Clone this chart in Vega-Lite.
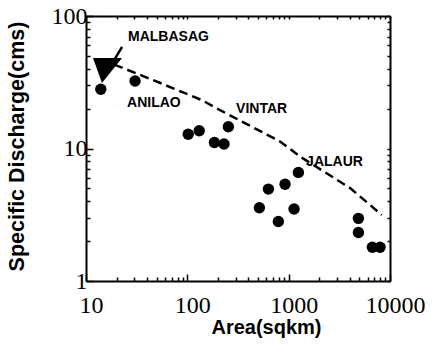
{
  "$schema": "https://vega.github.io/schema/vega-lite/v6.json",
  "width": 304,
  "height": 265,
  "autosize": {"type": "none"},
  "padding": {"left": 86, "top": 16, "right": 42, "bottom": 63},
  "background": "white",
  "config": {
    "view": {"stroke": null},
    "axis": {
      "domainColor": "black",
      "domainWidth": 2,
      "tickColor": "black",
      "tickWidth": 1.5,
      "grid": false,
      "labelFont": "Liberation Serif",
      "labelFontSize": 24,
      "labelColor": "black",
      "labelOverlap": false,
      "labelFlush": false,
      "titleFont": "Liberation Sans",
      "titleFontSize": 20,
      "titleFontWeight": "bold",
      "titleColor": "black"
    }
  },
  "datasets": {
    "points": [
      {"area": 14.0, "q": 28.0},
      {"area": 30.5, "q": 32.3},
      {"area": 102, "q": 12.8},
      {"area": 131, "q": 13.6},
      {"area": 185, "q": 11.1},
      {"area": 230, "q": 10.8},
      {"area": 254, "q": 14.6},
      {"area": 1247, "q": 6.6},
      {"area": 921, "q": 5.37},
      {"area": 631, "q": 4.94},
      {"area": 514, "q": 3.57},
      {"area": 1130, "q": 3.49},
      {"area": 791, "q": 2.81},
      {"area": 4880, "q": 2.97},
      {"area": 4880, "q": 2.32},
      {"area": 6700, "q": 1.8},
      {"area": 7980, "q": 1.8}
    ],
    "curve": [
      {"area": 19, "q": 43},
      {"area": 23.2, "q": 40.5},
      {"area": 54, "q": 31.2},
      {"area": 139, "q": 23.2},
      {"area": 192, "q": 20.2},
      {"area": 822, "q": 11.3},
      {"area": 1325, "q": 8.6},
      {"area": 4040, "q": 5.03},
      {"area": 8300, "q": 3.15}
    ],
    "arrow": [
      {"area": 18.5, "q": 45},
      {"area": 22.7, "q": 58.4}
    ],
    "marker": [
      {"area": 16.3, "q": 38.8}
    ],
    "labels": [
      {"area": 26, "q": 69.5, "name": "MALBASAG"},
      {"area": 25.4, "q": 22.0, "name": "ANILAO"},
      {"area": 303, "q": 19.7, "name": "VINTAR"},
      {"area": 1486, "q": 7.9, "name": "JALAUR"}
    ]
  },
  "resolve": {"axis": {"x": "independent", "y": "independent"}},
  "layer": [
    {
      "data": {"name": "points"},
      "mark": {"type": "circle", "color": "black", "opacity": 1, "size": 130},
      "encoding": {
        "x": {
          "field": "area", "type": "quantitative",
          "scale": {"type": "log", "domain": [10, 10000], "nice": false},
          "axis": {
            "orient": "bottom",
            "title": "Area(sqkm)",
            "titleX": 180, "titleY": 46, "titleBaseline": "middle", "titleAlign": "center",
            "values": [10,20,30,40,50,60,70,80,90,100,200,300,400,500,600,700,800,900,1000,2000,3000,4000,5000,6000,7000,8000,9000,10000],
            "format": "d",
            "labelExpr": "indexof([10,100,1000,10000], datum.value) >= 0 ? datum.label : ''",
            "tickSize": {"condition": {"test": "indexof([10,100,1000,10000], datum.value) >= 0", "value": -7}, "value": -4},
            "labelPadding": 19,
            "labelOffset": 5
          }
        },
        "y": {
          "field": "q", "type": "quantitative",
          "scale": {"type": "log", "domain": [1, 100], "nice": false},
          "axis": {
            "orient": "left",
            "title": "Specific Discharge(cms)",
            "titleFontSize": 21.5,
            "titleX": -69, "titleY": 130, "titleBaseline": "middle", "titleAlign": "center",
            "values": [1,2,3,4,5,6,7,8,9,10,20,30,40,50,60,70,80,90,100],
            "format": "d",
            "labelExpr": "indexof([1,10,100], datum.value) >= 0 ? datum.label : ''",
            "tickSize": {"condition": {"test": "indexof([1,10,100], datum.value) >= 0", "value": -7}, "value": -4},
            "labelPadding": 6
          }
        }
      }
    },
    {
      "data": {"name": "curve"},
      "mark": {"type": "line", "color": "black", "strokeWidth": 2.5, "strokeDash": [9, 5]},
      "encoding": {
        "x": {
          "field": "area", "type": "quantitative",
          "axis": {
            "orient": "top", "title": null, "labels": false,
            "values": [10,20,30,40,50,60,70,80,90,100,200,300,400,500,600,700,800,900,1000,2000,3000,4000,5000,6000,7000,8000,9000,10000],
            "tickSize": -3
          }
        },
        "y": {
          "field": "q", "type": "quantitative",
          "axis": {
            "orient": "right", "title": null, "labels": false,
            "values": [1,2,3,4,5,6,7,8,9,10,20,30,40,50,60,70,80,90,100],
            "tickSize": -3
          }
        }
      }
    },
    {
      "data": {"name": "arrow"},
      "mark": {"type": "line", "color": "black", "strokeWidth": 2.5},
      "encoding": {
        "x": {"field": "area", "type": "quantitative", "axis": null},
        "y": {"field": "q", "type": "quantitative", "axis": null}
      }
    },
    {
      "data": {"name": "marker"},
      "mark": {"type": "point", "shape": "M-1,-0.86L1,-0.86L-0.38,0.86Z", "filled": true, "color": "black", "opacity": 1, "size": 841},
      "encoding": {
        "x": {"field": "area", "type": "quantitative", "axis": null},
        "y": {"field": "q", "type": "quantitative", "axis": null}
      }
    },
    {
      "data": {"name": "labels"},
      "mark": {"type": "text", "font": "Liberation Sans", "fontWeight": "bold", "fontSize": 14, "align": "left", "baseline": "middle", "color": "black"},
      "encoding": {
        "x": {"field": "area", "type": "quantitative", "axis": null},
        "y": {"field": "q", "type": "quantitative", "axis": null},
        "text": {"field": "name"}
      }
    }
  ]
}
